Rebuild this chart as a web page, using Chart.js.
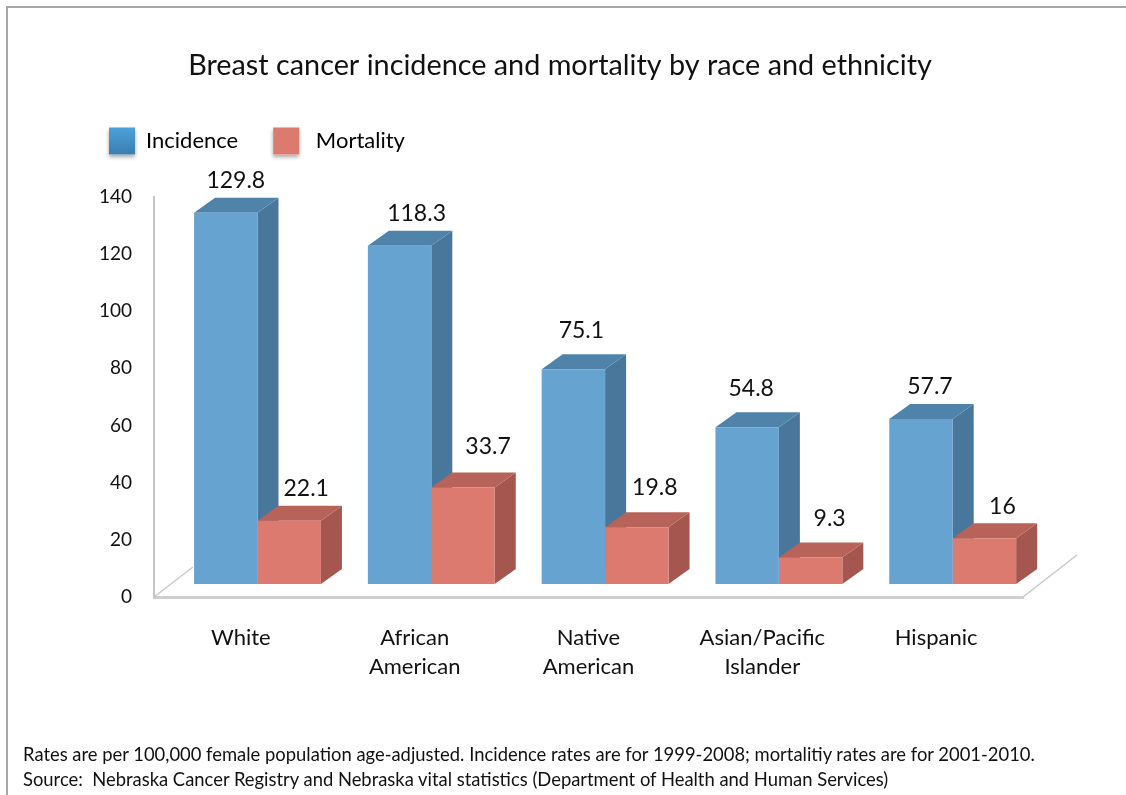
<!DOCTYPE html>
<html>
<head>
<meta charset="utf-8">
<title>Breast cancer incidence and mortality</title>
<script src="https://cdn.jsdelivr.net/npm/chart.js@4/dist/chart.umd.js"></script>
<style>
  html, body { margin: 0; padding: 0; background: #fff; overflow: hidden; }
  #wrap { position: relative; width: 1126px; height: 795px; }
  #frame { position: absolute; left: 6px; top: 6px; right: 0; bottom: 0; border-top: 2px solid #a6a6a6; border-left: 2px solid #a6a6a6; }
  #note { position: absolute; left: 23px; top: 742px; font: 18.4px/25px Lato, sans-serif; color: #111; white-space: pre; }
  canvas { position: absolute; left: 0; top: 0; }
</style>
</head>
<body>
<div id="wrap">
  <canvas id="chart" width="1126" height="795"></canvas>
  <div id="frame"></div>
  <div id="note">Rates are per 100,000 female population age-adjusted. Incidence rates are for 1999-2008; mortalitiy rates are for 2001-2010.
Source:  Nebraska Cancer Registry and Nebraska vital statistics (Department of Health and Human Services)</div>
</div>
<script>
// rates per 100,000
const categories = ['White', ['African', 'American'], ['Native', 'American'], ['Asian/Pacific', 'Islander'], 'Hispanic'];
const incidence = [129.8, 118.3, 75.1, 54.8, 57.7];
const mortality = [22.1, 33.7, 19.8, 9.3, 16];

// hand nudges for the value labels, [dx, dy] per bar
const incidenceNudge = [[10, 0], [17, 0], [8, -7], [4, -7], [9, 0]];
const mortalityNudge = [[17, 0], [25, -9], [18, -8], [19, -7], [18, 0]];

const FONT = 'Lato, sans-serif';
const TEXT = '#111';

// face colours of the boxes
const faces = {
  blue: { front: '#66a3d1', top: '#4f83aa', side: '#48779b' },
  red: { front: '#dd7a70', top: '#b8635a', side: '#a5564f' }
};

// how far the boxes stand off the axes, and how deep they are
const SHIFT_X = 16.6, SHIFT_Y = -13;
const DEPTH_X = 21, DEPTH_Y = -15;

function poly(ctx, color, pts) {
  ctx.fillStyle = color;
  ctx.beginPath();
  pts.forEach((p, i) => i ? ctx.lineTo(p[0], p[1]) : ctx.moveTo(p[0], p[1]));
  ctx.closePath();
  ctx.fill();
}

const box3d = {
  id: 'box3d',
  beforeInit(chart) {
    // extra room between the legend row and the plot
    const fit = chart.legend.fit;
    chart.legend.fit = function () {
      fit.call(this);
      this.height += 32;
    };
  },
  afterLayout(chart) {
    // legend starts further left than the title block
    const shift = chart.legend.left - 74;
    chart.legend.left = 74;
    chart.legend.legendHitBoxes.forEach(h => { h.left -= shift; });
  },
  beforeDraw(chart) {
    // soft shadow under the legend swatches
    const ctx = chart.ctx;
    ctx.save();
    ctx.shadowColor = 'rgba(0,0,0,0.35)';
    ctx.shadowBlur = 4;
    ctx.shadowOffsetY = 2;
    ctx.fillStyle = '#fff';
    chart.legend.legendHitBoxes.forEach(h => ctx.fillRect(h.left, h.top, 26, 27));
    ctx.restore();
  },
  beforeDatasetsDraw(chart) {
    const ctx = chart.ctx;
    const a = chart.chartArea;
    // floor edges running back from the two front corners
    ctx.save();
    ctx.strokeStyle = '#c8c8c8';
    ctx.lineWidth = 1.5;
    ctx.beginPath();
    ctx.moveTo(a.left, a.bottom);
    ctx.lineTo(a.left + 39, a.bottom - 30);
    ctx.moveTo(a.right, a.bottom);
    ctx.lineTo(a.right + 54, a.bottom - 42);
    ctx.stroke();
    ctx.restore();
    ctx.save();
    ctx.translate(SHIFT_X, SHIFT_Y);
    // sides and tops go down first, blue then red, the fronts cover them after
    [faces.blue, faces.red].forEach((f, d) => {
      chart.getDatasetMeta(d).data.forEach(b => {
        const l = b.x - b.width / 2, r = b.x + b.width / 2;
        poly(ctx, f.side, [[r, b.y], [r + DEPTH_X, b.y + DEPTH_Y], [r + DEPTH_X, b.base + DEPTH_Y], [r, b.base]]);
        poly(ctx, f.top, [[l, b.y], [l + DEPTH_X, b.y + DEPTH_Y], [r + DEPTH_X, b.y + DEPTH_Y], [r, b.y]]);
      });
    });
  },
  afterDatasetsDraw(chart) {
    const ctx = chart.ctx;
    ctx.font = '23px ' + FONT;
    ctx.fillStyle = TEXT;
    ctx.textAlign = 'center';
    ctx.textBaseline = 'middle';
    [incidenceNudge, mortalityNudge].forEach((nudge, d) => {
      chart.getDatasetMeta(d).data.forEach((b, i) => {
        const label = String(chart.data.datasets[d].data[i]);
        ctx.fillText(label, b.x + nudge[i][0], b.y + DEPTH_Y - 17 + nudge[i][1]);
      });
    });
    ctx.restore();
  }
};

const canvas = document.getElementById('chart');
const legendBlue = canvas.getContext('2d').createLinearGradient(0, 126, 0, 153);
legendBlue.addColorStop(0, '#4ea3dc');
legendBlue.addColorStop(1, '#3b80b0');

new Chart(canvas, {
  type: 'bar',
  data: {
    labels: categories,
    datasets: [
      { label: 'Incidence', data: incidence, backgroundColor: faces.blue.front },
      { label: 'Mortality', data: mortality, backgroundColor: faces.red.front }
    ]
  },
  options: {
    responsive: false,
    animation: false,
    layout: { padding: { left: 97, right: 103, top: 0, bottom: 98 } },
    categoryPercentage: 0.73,
    barPercentage: 1,
    plugins: {
      tooltip: { enabled: false },
      title: {
        display: true,
        text: 'Breast cancer incidence and mortality by race and ethnicity',
        color: TEXT,
        font: { family: FONT, size: 28.8, weight: 'normal', lineHeight: 1.2 },
        padding: { top: 48, bottom: 10 }
      },
      legend: {
        display: true,
        position: 'top',
        align: 'start',
        labels: {
          boxWidth: 26,
          boxHeight: 27,
          padding: 35,
          color: TEXT,
          font: { family: FONT, size: 22 },
          generateLabels(chart) {
            return [
              { text: 'Incidence', fillStyle: legendBlue, lineWidth: 0, strokeStyle: 'transparent', datasetIndex: 0 },
              { text: ' Mortality', fillStyle: faces.red.front, lineWidth: 0, strokeStyle: 'transparent', datasetIndex: 1 }
            ];
          }
        }
      }
    },
    scales: {
      x: {
        grid: { display: false },
        border: { color: '#cfcfcf', width: 3 },
        afterFit(scale) { scale.height = 100; },
        ticks: {
          color: TEXT,
          padding: 18,
          maxRotation: 0,
          font: { family: FONT, size: 22, lineHeight: 1.32 }
        }
      },
      y: {
        min: 0,
        max: 140,
        grid: { display: false },
        border: { color: '#c4c4c4', width: 2 },
        afterFit(scale) { scale.width = 57; },
        ticks: {
          stepSize: 20,
          color: TEXT,
          padding: 14,
          font: { family: FONT, size: 19 }
        }
      }
    }
  },
  plugins: [box3d]
});
</script>
</body>
</html>
